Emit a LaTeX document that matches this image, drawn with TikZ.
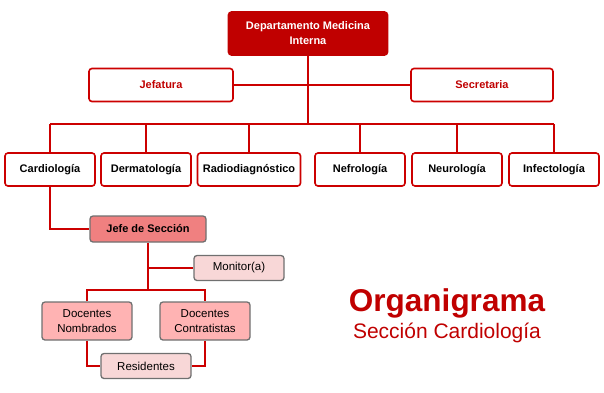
\documentclass[tikz,border=0pt]{standalone}
\usepackage{fontspec}
\setmainfont{Liberation Sans}
\usepackage{xcolor}
\usetikzlibrary{positioning}
\definecolor{Rojo}{HTML}{C00000}
\definecolor{Linea}{HTML}{CC0000}
\definecolor{Gris}{HTML}{707070}
\definecolor{Jefe}{HTML}{F08080}
\definecolor{Docente}{HTML}{FFB3B3}
\definecolor{Claro}{HTML}{F8D7D7}

\tikzset{
  caja/.style={draw=Linea, fill=white, rounded corners=3pt, line width=1.6pt,
    inner sep=0pt, align=center, font=\fontsize{11}{15}\selectfont\bfseries},
  subcaja/.style={draw=Gris, rounded corners=3pt, line width=1.3pt,
    inner sep=0pt, align=center, font=\fontsize{11.5}{15}\selectfont},
  enlace/.style={draw=Linea, line width=1.6pt}
}

\begin{document}
\begin{tikzpicture}[x=1pt, y=-1pt]
  \useasboundingbox (0,0) rectangle (604,392);

  % direccion
  \node[caja, fill=Rojo, draw=Rojo, text=white, minimum width=159pt, minimum height=43pt]
    (depto) at (308,33.5) {Departamento Medicina\\Interna};
  \node[caja, text=Rojo, minimum width=144pt, minimum height=33pt]
    (jefatura) at (161,85) {Jefatura};
  \node[caja, text=Rojo, minimum width=142pt, minimum height=33pt]
    (secretaria) at (482,85) {Secretaria};

  % secciones
  \node[caja, minimum width=90pt, minimum height=33pt] (card) at (50,169.5) {Cardiología};
  \node[caja, minimum width=90pt, minimum height=33pt] (derm) at (146,169.5) {Dermatología};
  \node[caja, minimum width=103pt, minimum height=33pt] (radio) at (249,169.5) {Radiodiagnóstico};
  \node[caja, minimum width=90pt, minimum height=33pt] (nefro) at (360,169.5) {Nefrología};
  \node[caja, minimum width=90pt, minimum height=33pt] (neuro) at (457,169.5) {Neurología};
  \node[caja, minimum width=90pt, minimum height=33pt] (infec) at (554,169.5) {Infectología};

  % seccion cardiologia
  \node[subcaja, fill=Jefe, font=\fontsize{11}{13}\selectfont\bfseries,
    minimum width=116pt, minimum height=26pt] (jefe) at (148,229) {Jefe de Sección};
  \node[subcaja, fill=Claro, minimum width=90pt, minimum height=25pt] (moni) at (239,268) {Monitor(a)};
  \node[subcaja, fill=Docente, minimum width=90pt, minimum height=38pt] (nomb) at (87,321) {Docentes\\Nombrados};
  \node[subcaja, fill=Docente, minimum width=90pt, minimum height=38pt] (contr) at (205,321) {Docentes\\Contratistas};
  \node[subcaja, fill=Claro, minimum width=90pt, minimum height=25pt] (resi) at (146,366) {Residentes};

  \coordinate (bus) at (308,124);
  \coordinate (docbus) at (148,290);

  \draw[enlace] (depto.south) -- (bus);
  \draw[enlace] (jefatura.east) -- (secretaria.west);
  \draw[enlace] (card.north |- bus) -- (infec.north |- bus);
  \foreach \n in {card,derm,radio,nefro,neuro,infec}
    \draw[enlace] (\n.north) -- (\n.north |- bus);

  \draw[enlace] (card.south) |- (jefe.west);
  \draw[enlace] (jefe.south) -- (docbus);
  \draw[enlace] (jefe.south |- moni) -- (moni.west);
  \draw[enlace] (nomb.north) |- (docbus) -| (contr.north);
  \draw[enlace] (nomb.south) |- (resi.west);
  \draw[enlace] (contr.south) |- (resi.east);

  % titulo
  \node[text=Rojo, font=\fontsize{31.5}{33}\selectfont\bfseries] (titulo) at (447,303) {Organigrama};
  \node[text=Rojo, font=\fontsize{21}{23}\selectfont] (subtitulo) at (447,332.5) {Sección Cardiología};
\end{tikzpicture}
\end{document}
